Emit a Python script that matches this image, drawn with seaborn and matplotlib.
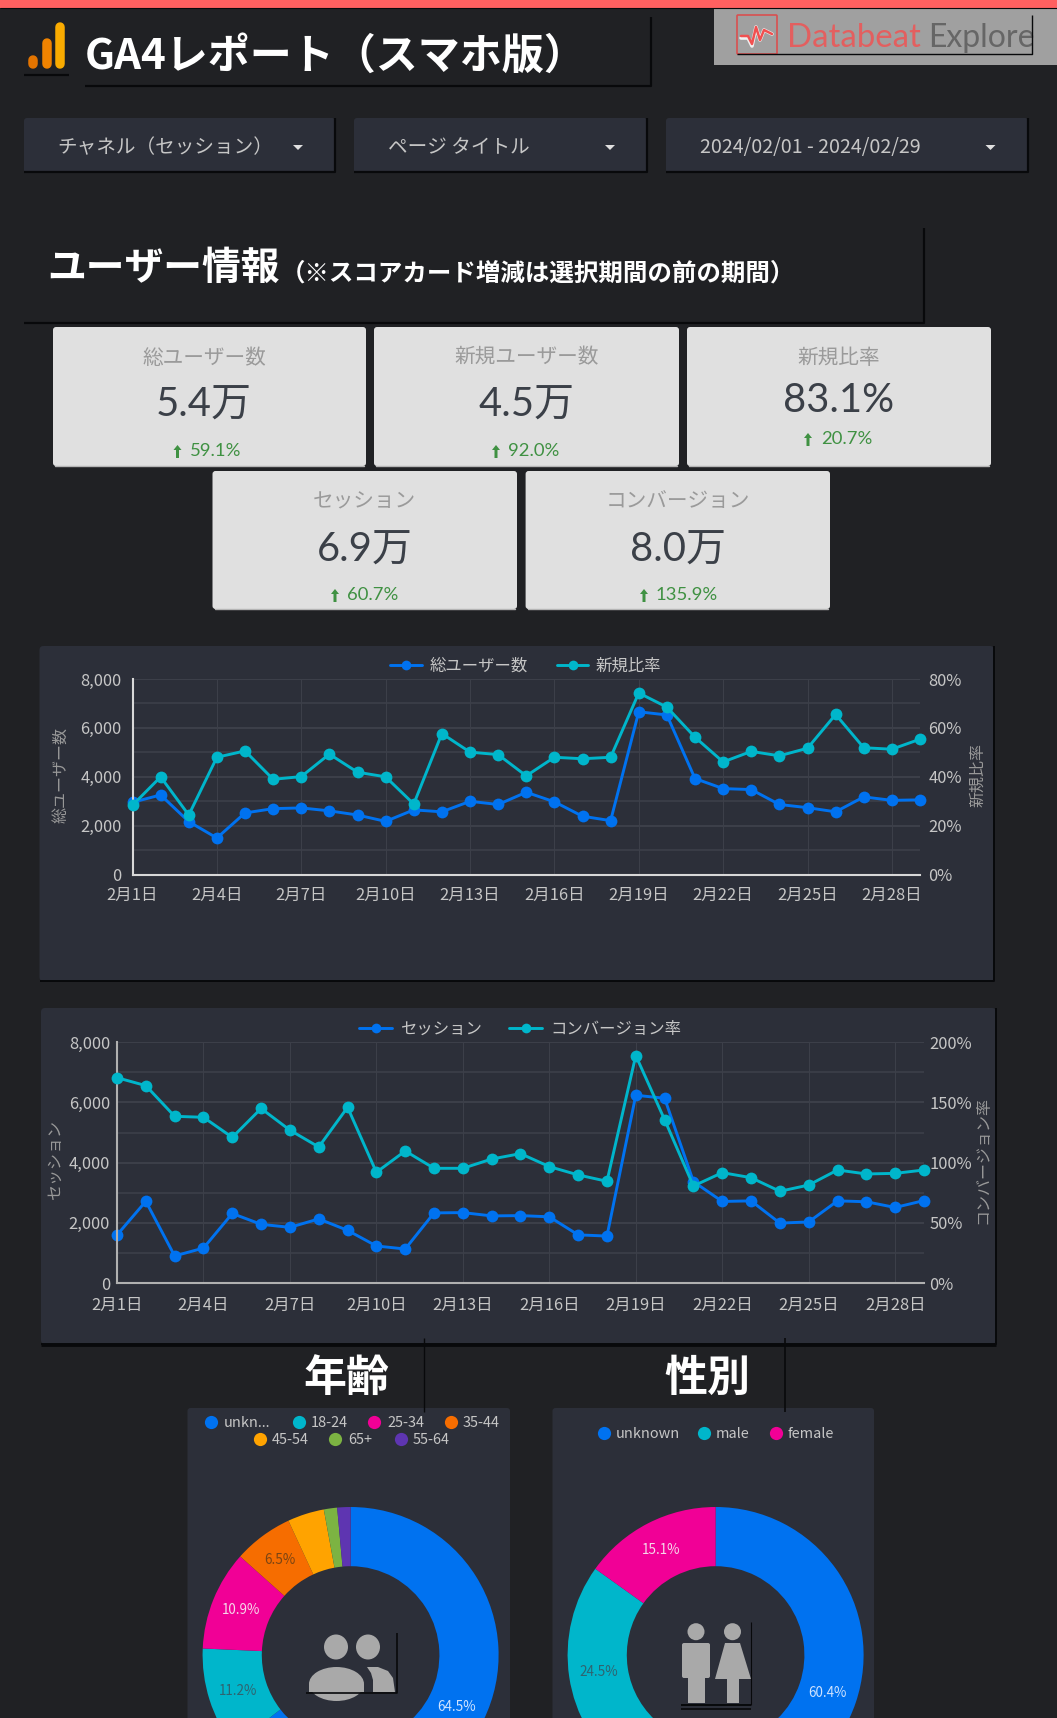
import matplotlib
matplotlib.use('Agg')
import matplotlib.pyplot as plt
from matplotlib.patches import Rectangle, FancyBboxPatch, Ellipse, Polygon
import pandas as pd
import seaborn as sns

W, H = 1057, 1718

days = list(range(1, 30))
tick_days = [1, 4, 7, 10, 13, 16, 19, 22, 25, 28]

users = [2960, 3260, 2170, 1500, 2525, 2700, 2730, 2610, 2440, 2180, 2650, 2570, 3000, 2870, 3370,
         2980, 2390, 2210, 6660, 6530, 3930, 3520, 3480, 2870, 2740, 2570, 3180, 3040, 3060]
new_ratio = [28.4, 40.0, 24.4, 48.0, 50.6, 39.0, 40.1, 49.3, 41.9, 40.0, 28.9, 57.7, 50.1, 49.1, 40.4,
             48.0, 47.4, 48.0, 74.3, 68.5, 56.2, 46.1, 50.4, 48.6, 51.7, 65.5, 51.9, 51.3, 55.4]
sessions = [1596, 2715, 900, 1160, 2310, 1950, 1850, 2130, 1750, 1230, 1130, 2330, 2340, 2230, 2240,
            2200, 1600, 1560, 6240, 6140, 3370, 2710, 2730, 1990, 2030, 2730, 2700, 2510, 2740]
cv_rate = [170.6, 164.0, 138.5, 137.7, 121.0, 145.0, 127.0, 113.0, 146.0, 92.0, 109.7, 95.3, 95.3, 103.0, 107.5,
           96.7, 89.8, 84.5, 189.0, 135.7, 80.6, 91.7, 87.5, 76.2, 81.4, 93.9, 90.6, 91.1, 93.9]

age_labels = ['unkn...', '18-24', '25-34', '35-44', '45-54', '65+', '55-64']
age_share = [64.5, 11.2, 10.9, 6.5, 4.0, 1.45, 1.45]
gender_labels = ['unknown', 'male', 'female']
gender_share = [60.4, 24.5, 15.1]

card_titles = ['総ユーザー数', '新規ユーザー数', '新規比率', 'セッション', 'コンバージョン']
card_values = ['5.4万', '4.5万', '83.1%', '6.9万', '8.0万']
card_deltas = ['59.1%', '92.0%', '20.7%', '60.7%', '135.9%']

BG = '#202124'
PANEL = '#2c2f39'
GRID = '#3c3f49'
TXT = '#c6c6c6'
BLUE = '#0072f0'
TEAL = '#00b6cb'
SLICE_COLORS = [BLUE, TEAL, '#f10096', '#f66d00', '#ffa300', '#7cb342', '#5e35b1']

sns.set_theme(style='dark')
plt.rcParams['font.family'] = ['Noto Sans CJK JP', 'DejaVu Sans']
CARD_FONT = ['Lato', 'Noto Sans CJK JP']

fig = plt.figure(figsize=(W / 100, H / 100), dpi=100, facecolor=BG)


def px_axes(left, top, right, bottom, zorder=1):
    return fig.add_axes([left / W, 1 - bottom / H, (right - left) / W, (bottom - top) / H], zorder=zorder)


def fs(px):
    return px * 0.72


base = px_axes(0, 0, W, H, zorder=0)
base.set_xlim(0, W)
base.set_ylim(H, 0)
base.axis('off')
top = px_axes(0, 0, W, H, zorder=5)
top.set_xlim(0, W)
top.set_ylim(H, 0)
top.axis('off')
top.patch.set_alpha(0)


def box(ax, x0, y0, x1, y1, color, r=3, z=1):
    ax.add_patch(FancyBboxPatch((x0 + r, y0 + r), x1 - x0 - 2 * r, y1 - y0 - 2 * r,
                                boxstyle=f'round,pad={r}', fc=color, ec='none', zorder=z))


def black_line(ax, xs, ys, lw=1.6, z=3):
    ax.plot(xs, ys, color='#08090b', lw=lw, zorder=z, solid_capstyle='butt')


# top bar
base.add_patch(Rectangle((0, 0), W, 7.5, fc='#ff6060', ec='none'))
black_line(base, [0, W], [8, 8], lw=0.8)

# GA icon and title
for x0, y0, c in [(33, 60, '#e37400'), (46.5, 43, '#f08300'), (60, 27, '#f9ab00')]:
    base.plot([x0, x0], [y0, 64], color=c, lw=fs(9.5), solid_capstyle='round')
black_line(base, [24, 69], [75, 75])
base.text(85, 57, 'GA4レポート（スマホ版）', color='white', fontsize=fs(42), fontweight='bold', va='center')
black_line(base, [85, 651, 651], [86, 86, 17])

# logo
base.add_patch(Rectangle((714, 9), 343, 56, fc='#a0a0a0', ec='none'))
base.add_patch(FancyBboxPatch((738, 16), 38, 37, boxstyle='round,pad=1', fc='none', ec='#d95050', lw=1.2))
base.plot([741, 748, 752, 756, 760, 764, 772], [38, 38, 46, 27, 40, 30, 34], color='#f0f0f0', lw=2.6)
base.plot([741, 748, 752, 756, 760, 764, 772], [36, 36, 44, 27, 40, 30, 34], color='#f05050', lw=1.8)
base.text(787, 38, 'Databeat', color='#e35f5f', fontsize=fs(33), va='center', family=['Lato', 'DejaVu Sans'])
base.text(928, 38, 'Explore', color='#666666', fontsize=fs(32), va='center', family=['Lato', 'DejaVu Sans'])
black_line(base, [737, 1032, 1032], [54, 54, 15], lw=1.0)

# dropdowns
for x0, x1, label, tx, ax_ in [(24, 335, 'チャネル（セッション）', 57, 298), (354, 647, 'ページ タイトル', 388, 610),
                               (666, 1028, '2024/02/01 - 2024/02/29', 700, 990.5)]:
    box(base, x0, 118, x1, 173, PANEL)
    black_line(base, [x0, x1, x1], [172, 172, 118])
    base.text(tx, 148, label, color=TXT, fontsize=fs(19.6), va='center')
    base.add_patch(Polygon([(ax_ - 5, 145), (ax_ + 5, 145), (ax_, 150)], fc='#e0e0e0', ec='none'))

# section title
base.text(47, 268, 'ユーザー情報', color='white', fontsize=fs(38.8), fontweight='bold', va='center')
base.text(281, 274, '（※スコアカード増減は選択期間の前の期間）', color='white', fontsize=fs(24.5), fontweight='bold', va='center')
black_line(base, [24, 924, 924], [323, 323, 228])

# scorecards
cards = [(53, 327, 366, 466, 204, 451, 405, 177.5, 190), (374, 327, 679, 466, 526.5, 451, 405, 496, 508),
         (687, 327, 991, 466, 838.5, 439, 401, 808, 821), (212.5, 471, 517, 609, 364.5, 595, 550, 335, 347.5),
         (525.6, 471, 830, 609, 677.5, 595, 550, 644, 656)]
for (x0, y0, x1, y1, cx, dy, vy, arrow_x, dx), title, val, delta in zip(cards, card_titles, card_values, card_deltas):
    box(base, x0, y0, x1, y1, '#e0e0e0')
    base.plot([x0 + 2, x1 - 2], [y1 - 0.5, y1 - 0.5], color='#b5b5b5', lw=1)
    base.text(cx, y0 + 30.5, title, color='#9a9a9a', fontsize=fs(20.7), ha='center', va='center')
    base.text(cx, vy, val, color='#3b4048', fontsize=fs(40), ha='center', va='center', family=CARD_FONT)
    base.add_patch(Polygon([(arrow_x - 4, dy - 1), (arrow_x, dy - 6), (arrow_x + 4, dy - 1), (arrow_x + 1.5, dy - 1),
                            (arrow_x + 1.5, dy + 7), (arrow_x - 1.5, dy + 7), (arrow_x - 1.5, dy - 1)],
                           fc='#3f9142', ec='none'))
    base.text(dx, dy, delta, color='#3f9142', fontsize=fs(18.5), va='center', family=CARD_FONT)


def line_panel(frame, px, left_col, right_col, left_max, right_max, right_fmt, left_name, right_name,
               legend, label_x, label_y, axis_color):
    panel = px['panel']
    box(base, panel[0], panel[1], panel[2], panel[3], PANEL, r=4)
    black_line(base, [panel[0], panel[2], panel[2]], [panel[3], panel[3], panel[1]], lw=1.4)

    ax = px_axes(*px['plot'], zorder=1)
    ax.patch.set_alpha(0)
    sns.lineplot(data=frame, x='day', y=left_col, ax=ax, color=BLUE, marker='o', markersize=8.5,
                 markeredgewidth=0, linewidth=2.1, clip_on=False)
    ax.set_xlim(1, 29)
    ax.set_ylim(0, left_max)
    ax.set_yticks(range(0, left_max + 1, 2000))
    ax.set_yticklabels([f'{v:,}' for v in range(0, left_max + 1, 2000)])
    ax.set_yticks(range(1000, left_max, 2000), minor=True)
    ax.set_xticks(tick_days)
    ax.set_xticklabels([f'2月{d}日' for d in tick_days])
    ax.set_xlabel('')
    ax.set_ylabel('')
    ax.grid(True, which='major', axis='y', color=GRID, lw=1.5)
    ax.grid(True, which='minor', axis='y', color=GRID, lw=1.2)
    ax.grid(True, which='major', axis='x', color=GRID, lw=0.8)
    ax.set_axisbelow(True)
    ax.tick_params(axis='both', which='both', length=0, labelcolor=TXT, labelsize=fs(16.5))
    ax.tick_params(axis='x', pad=px['xpad'])
    ax.tick_params(axis='y', pad=px['ypad'])
    for s in ['top', 'right']:
        ax.spines[s].set_visible(False)
    for s in ['left', 'bottom']:
        ax.spines[s].set_color(axis_color)
        ax.spines[s].set_linewidth(1.5)

    ax2 = ax.twinx()
    ax2.set_zorder(2)
    ax2.patch.set_alpha(0)
    sns.lineplot(data=frame, x='day', y=right_col, ax=ax2, color=TEAL, marker='o', markersize=8.5,
                 markeredgewidth=0, linewidth=2.1, clip_on=False)
    ax2.set_ylim(0, right_max)
    ax2.set_yticks(range(0, right_max + 1, right_max // 4))
    ax2.set_yticklabels([right_fmt.format(v) for v in range(0, right_max + 1, right_max // 4)])
    ax2.set_ylabel('')
    ax2.grid(False)
    ax2.tick_params(axis='y', length=0, labelcolor=TXT, labelsize=fs(16.5), pad=px['rpad'])
    for s in ax2.spines.values():
        s.set_visible(False)

    # legend
    y = legend['y']
    for (x0, x1, tx), name, c in zip(legend['items'], [left_name, right_name], [BLUE, TEAL]):
        top.plot([x0, x1], [y, y], color=c, lw=2.1)
        top.plot([(x0 + x1) / 2], [y], 'o', color=c, ms=7, mew=0)
        top.text(tx, y + 1.5, name, color=TXT, fontsize=fs(16.4), va='center')

    top.text(label_x[0], label_y, left_name, color='#999999', fontsize=fs(16), rotation=90, ha='center', va='center')
    top.text(label_x[1], label_y, right_name, color='#999999', fontsize=fs(16), rotation=90, ha='center', va='center')


df1 = pd.DataFrame({'day': days, 'users': users, 'new_ratio': new_ratio})
df2 = pd.DataFrame({'day': days, 'sessions': sessions, 'cv_rate': cv_rate})

line_panel(df1, {'panel': (39.5, 646, 994, 981), 'plot': (132.5, 679, 920, 874.7), 'xpad': 9, 'ypad': 8, 'rpad': 6},
           'users', 'new_ratio', 8000, 80, '{}%', '総ユーザー数', '新規比率',
           {'y': 665, 'items': [(390, 422, 430), (557, 588, 596)]}, (61, 978), 775, '#d8d8d8')
line_panel(df2, {'panel': (41, 1008, 996, 1344), 'plot': (117, 1042.3, 924, 1283), 'xpad': 10, 'ypad': 5, 'rpad': 4},
           'sessions', 'cv_rate', 8000, 200, '{}%', 'セッション', 'コンバージョン率',
           {'y': 1027.7, 'items': [(359, 392, 400), (509, 542, 550)]}, (55, 983), 1160, '#b0b0b0')
black_line(base, [41, 996], [1345, 1345], lw=2)

# donut section
base.text(346, 1378, '年齢', color='white', fontsize=fs(43), fontweight='bold', ha='center', va='center')
base.text(707, 1378, '性別', color='white', fontsize=fs(43), fontweight='bold', ha='center', va='center')
box(base, 187.5, 1408, 510, H + 20, PANEL, r=3)
box(base, 552.5, 1408, 874, H + 20, PANEL, r=3)
black_line(top, [423.5, 423.5], [1338, 1412], lw=1)
black_line(top, [785, 785], [1338, 1412], lw=1.2)


def donut(cx, cy, r, shares, colors, label_colors):
    ax = px_axes(cx - r, cy - r, cx + r, cy + r, zorder=2)
    ax.patch.set_alpha(0)
    wedges, _, autotexts = ax.pie(shares, colors=colors, startangle=90, counterclock=False, radius=1,
                                  wedgeprops={'width': 0.4, 'linewidth': 0}, pctdistance=0.8,
                                  autopct=lambda p: f'{p:.1f}%' if p >= 5 else '',
                                  textprops={'fontsize': fs(13.5)}, frame=False)
    ax.set_xlim(-1, 1)
    ax.set_ylim(-1, 1)
    for w in wedges:
        w.set_clip_on(False)
    for t, c in zip(autotexts, label_colors):
        t.set_color(c)


donut(350.6, 1655, 148, age_share, SLICE_COLORS, ['#cfe3ff', '#2f6470', '#f5d8ea', '#7a4413', '#000000', '#000000', '#000000'])
donut(715.6, 1655, 148, gender_share, SLICE_COLORS[:3], ['#cfe3ff', '#2f6470', '#f5d8ea'])

# pie legends
age_legend = [(211, 223.7, 1421.7), (298.6, 310.5, 1421.7), (374, 387, 1421.7), (450.5, 463, 1421.7),
              (259.5, 271.5, 1439), (335, 348, 1439), (400.5, 413, 1439)]
for (mx, tx, y), name, c in zip(age_legend, age_labels, SLICE_COLORS):
    top.plot([mx], [y], 'o', color=c, ms=9.5, mew=0)
    top.text(tx, y + 1, name, color=TXT, fontsize=fs(14.5), va='center')
gender_legend = [(604, 616), (704, 716), (776, 788)]
for (mx, tx), name, c in zip(gender_legend, gender_labels, SLICE_COLORS):
    top.plot([mx], [1432.7], 'o', color=c, ms=9.5, mew=0)
    top.text(tx, 1433.7, name, color=TXT, fontsize=fs(14.5), va='center')

# icons in the donut holes
ICON = '#a9a9a9'
top.add_patch(Ellipse((336, 1647), 24, 25, fc=ICON, ec='none'))
top.add_patch(Ellipse((368, 1647), 24, 25, fc=ICON, ec='none'))
top.add_patch(Ellipse((336.5, 1684), 55, 34, fc=ICON, ec='none'))
top.add_patch(Rectangle((309, 1684), 55, 8, fc=ICON, ec='none'))
top.add_patch(Polygon([(367, 1667), (378, 1667), (388, 1671), (393, 1678), (395, 1692), (373, 1692), (373, 1680), (371, 1673)],
                      fc=ICON, ec='none'))
black_line(top, [306, 397, 397], [1692.7, 1692.7, 1633], lw=1.2)

top.add_patch(Ellipse((696, 1631.7), 17, 17, fc=ICON, ec='none'))
top.add_patch(FancyBboxPatch((684, 1645), 24, 31, boxstyle='round,pad=2', fc=ICON, ec='none'))
top.add_patch(Rectangle((688, 1678), 17, 25, fc=ICON, ec='none'))
top.add_patch(Ellipse((732.5, 1631.7), 17, 17, fc=ICON, ec='none'))
top.add_patch(Polygon([(725, 1643), (740, 1643), (751, 1679), (715, 1679)], fc=ICON, ec='none'))
top.add_patch(Rectangle((726.5, 1679), 12.5, 24, fc=ICON, ec='none'))
black_line(top, [681, 751], [1705, 1705], lw=1.4)
black_line(top, [681, 751], [1709, 1709], lw=1.2)
black_line(top, [751, 751], [1622, 1705], lw=0.8)

fig.savefig('out.png', dpi=100, facecolor=BG)
